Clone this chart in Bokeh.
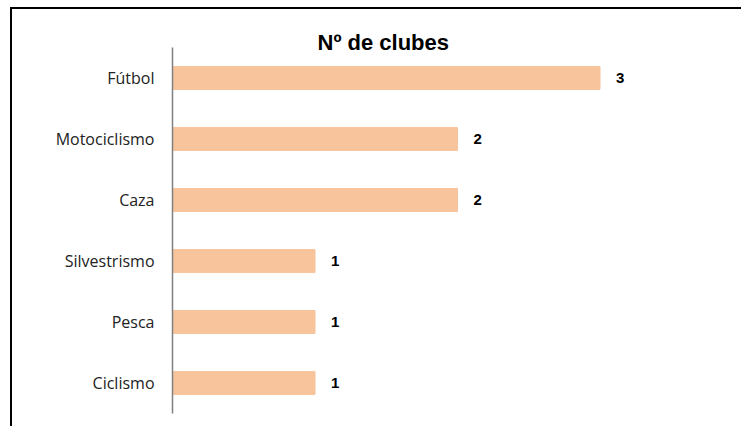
from bokeh.plotting import figure
from bokeh.models import ColumnDataSource, LabelSet
from bokeh.core.properties import value
from bokeh.embed import file_html
from bokeh.resources import INLINE

categories = ["Fútbol", "Motociclismo", "Caza", "Silvestrismo", "Pesca", "Ciclismo"]
values = [3, 2, 2, 1, 1, 1]
labels = [str(v) for v in values]

src = ColumnDataSource(dict(cat=categories, val=values, lab=labels))

p = figure(width=731, height=419, y_range=list(reversed(categories)), x_range=(0, 4.0),
           output_backend="svg", toolbar_location=None, title="Nº de clubes",
           min_border_left=160, min_border_right=1, min_border_top=38, min_border_bottom=15,
           margin=(7, 0, 0, 10))
p.styles = {"border-top": "2px solid black", "border-left": "2px solid black", "box-sizing": "border-box"}
p.hbar(y="cat", right="val", left=0, height=0.375, source=src, color="#F8C49C")
p.add_layout(LabelSet(x="val", y="cat", text="lab", source=src, x_offset=16,
                      text_baseline="middle", text_align="left", text_font=value("Liberation Sans"),
                      text_font_style="bold", text_font_size="15px", text_color="black"))

p.title.align = "left"
p.title.offset = 145
p.title.text_font = "Liberation Sans"
p.title.text_font_size = "22px"
p.title.text_font_style = "bold"
p.title.text_color = "black"
p.title.standoff = -14

p.xaxis.visible = False
p.xgrid.visible = False
p.ygrid.visible = False
p.outline_line_color = None
p.yaxis.major_tick_line_color = None
p.yaxis.minor_tick_line_color = None
p.yaxis.axis_line_color = "#808080"
p.yaxis.axis_line_width = 1.5
p.yaxis.major_label_text_font = "Open Sans"
p.yaxis.major_label_text_font_size = "16px"
p.yaxis.major_label_text_color = "#222222"
p.yaxis.major_label_standoff = 12

open("out.html", "w").write(file_html(p, INLINE))
